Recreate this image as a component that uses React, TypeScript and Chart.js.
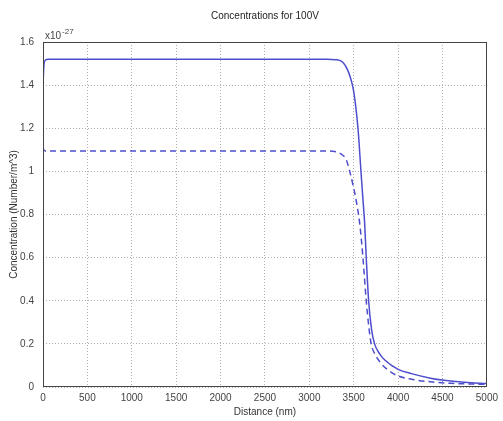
import React, { useEffect, useRef } from "react";
import { Chart, registerables } from "chart.js";

Chart.register(...registerables);

const titleText = "Concentrations for 100V";
const xAxisLabel = "Distance (nm)";
const yAxisLabel = "Concentration (Number/m^3)";
const exponentBase = "x10";
const exponentPower = "-27";

const xTickValues = [0, 500, 1000, 1500, 2000, 2500, 3000, 3500, 4000, 4500, 5000];
const yTickValues = [0, 0.2, 0.4, 0.6, 0.8, 1.0, 1.2, 1.4, 1.6];

const solidX = [0, 10, 25, 60, 3200, 3300, 3380, 3436, 3473, 3500, 3548, 3585, 3604, 3623, 3641, 3668, 3700, 3735, 3790, 3850, 4000, 4150, 4365, 4520, 4750, 5000];
const solidY = [1.40, 1.49, 1.515, 1.52, 1.52, 1.518, 1.505, 1.466, 1.42, 1.37, 1.20, 0.98, 0.87, 0.76, 0.60, 0.40, 0.27, 0.20, 0.155, 0.125, 0.082, 0.062, 0.041, 0.031, 0.022, 0.016];

const dashedX = [0, 8, 30, 3200, 3287, 3360, 3417, 3455, 3492, 3530, 3567, 3604, 3641, 3670, 3697, 3750, 3809, 3900, 3996, 4150, 4365, 4600, 5000];
const dashedY = [1.115, 1.10, 1.095, 1.095, 1.092, 1.08, 1.053, 1.0, 0.937, 0.86, 0.76, 0.60, 0.40, 0.28, 0.20, 0.145, 0.109, 0.075, 0.052, 0.036, 0.024, 0.017, 0.012];

const lineColor = "rgb(78, 78, 205)";
const FONT = "'Liberation Sans', Arial, sans-serif";

const decorPlugin = {
  id: "decor",
  afterDraw(chart: any) {
    const { ctx, chartArea } = chart;
    const { left, top, right, bottom } = chartArea;
    ctx.save();
    ctx.strokeStyle = "#444";
    ctx.lineWidth = 1;
    ctx.strokeRect(Math.round(left) + 0.5, Math.round(top) + 0.5, Math.round(right - left) - 1, Math.round(bottom - top) - 1);
    ctx.fillStyle = "#222";
    ctx.font = `10px ${FONT}`;
    ctx.textAlign = "center";
    ctx.textBaseline = "middle";
    ctx.fillText(titleText, (left + right) / 2, 16);
    ctx.textAlign = "left";
    ctx.textBaseline = "alphabetic";
    ctx.fillStyle = "#444";
    ctx.font = `10px ${FONT}`;
    ctx.fillText(exponentBase, left + 2, top - 3);
    const w = ctx.measureText(exponentBase).width;
    ctx.font = `8px ${FONT}`;
    ctx.fillText(exponentPower, left + 2 + w + 1, top - 8);
    ctx.restore();
  },
};

export default function App() {
  const canvasRef = useRef<HTMLCanvasElement | null>(null);

  useEffect(() => {
    if (!canvasRef.current) return;
    const chart = new Chart(canvasRef.current, {
      type: "line",
      data: {
        datasets: [
          {
            label: "solid",
            data: solidX.map((x, i) => ({ x, y: solidY[i] })),
            borderColor: lineColor,
            borderWidth: 1.5,
            pointRadius: 0,
            fill: false,
            cubicInterpolationMode: "monotone",
          },
          {
            label: "dashed",
            data: dashedX.map((x, i) => ({ x, y: dashedY[i] })),
            borderColor: lineColor,
            borderWidth: 1.5,
            borderDash: [6, 4],
            pointRadius: 0,
            fill: false,
            cubicInterpolationMode: "monotone",
          },
        ],
      },
      options: {
        animation: false,
        responsive: false,
        layout: { padding: { left: 0, right: 13, top: 42, bottom: 0 } },
        plugins: {
          legend: { display: false },
          title: { display: false },
          tooltip: { enabled: false },
        },
        scales: {
          x: {
            type: "linear",
            min: 0,
            max: 5000,
            afterBuildTicks: (scale: any) => {
              scale.ticks = xTickValues.map((v) => ({ value: v }));
            },
            afterFit: (scale: any) => {
              scale.height = 34;
            },
            ticks: {
              padding: 5,
              color: "#444",
              font: { family: FONT, size: 10 },
              maxRotation: 0,
              autoSkip: false,
              callback: (v: any) => String(v),
            },
            grid: { color: "#b0b0b0", lineWidth: 1, drawTicks: false },
            border: { display: false, dash: [1, 2] },
            title: {
              display: true,
              text: xAxisLabel,
              color: "#333",
              font: { family: FONT, size: 10 },
              padding: { top: 0, bottom: 3 },
            },
          },
          y: {
            type: "linear",
            min: 0,
            max: 1.6,
            afterBuildTicks: (scale: any) => {
              scale.ticks = yTickValues.map((v) => ({ value: v }));
            },
            afterFit: (scale: any) => {
              scale.width = 43;
            },
            ticks: {
              padding: 9,
              color: "#444",
              font: { family: FONT, size: 10 },
              autoSkip: false,
              callback: (v: any) => String(Number(Number(v).toFixed(1))),
            },
            grid: { color: "#b0b0b0", lineWidth: 1, drawTicks: false },
            border: { display: false, dash: [1, 2] },
            title: {
              display: true,
              text: yAxisLabel,
              color: "#333",
              font: { family: FONT, size: 10 },
              padding: { top: 8, bottom: 0 },
            },
          },
        },
      },
      plugins: [decorPlugin],
    } as any);
    return () => chart.destroy();
  }, []);

  return (
    <div style={{ position: "absolute", left: 0, top: 0, width: 503, height: 421, background: "#fff" }}>
      <canvas ref={canvasRef} width={503} height={421} style={{ display: "block" }} />
    </div>
  );
}
